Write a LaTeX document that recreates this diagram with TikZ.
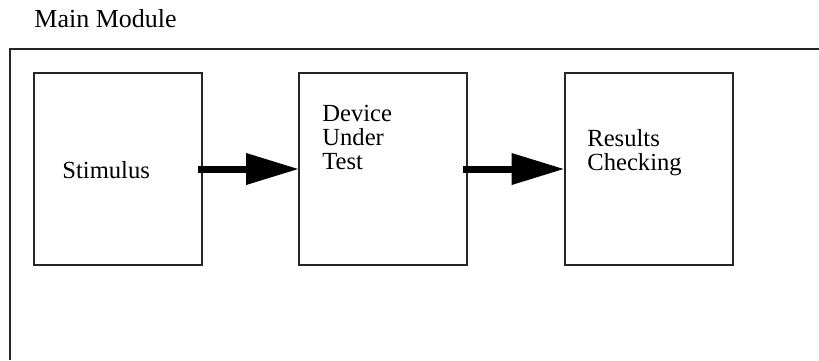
\documentclass[tikz,border=0pt]{standalone}
\usepackage{fontspec}
\setmainfont{Liberation Serif}
\usetikzlibrary{arrows.meta}
\begin{document}
\begin{tikzpicture}[x=0.5pt,y=-0.5pt,
  frameline/.style={draw=black!85,line width=1pt},
  block/.style={frameline,minimum width=84pt,minimum height=96pt,outer sep=0pt,inner sep=0pt},
  lbl/.style={anchor=base west,inner sep=0pt,font=\fontsize{12.3pt}{12pt}\selectfont,align=left},
  bigarrow/.style={line width=3.5pt,-{Triangle[length=26.5pt,width=15pt]}}]
\useasboundingbox (0,0) rectangle (819,360);
% outer module frame (cut off at right and bottom)
\coordinate (fr) at (819,49);
\coordinate (fc) at (10,49);
\coordinate (fb) at (10,360);
\draw[frameline] (fr) -- (fc) -- (fb);
\node[lbl,font=\fontsize{13pt}{13pt}\selectfont] (title) at (34,27) {Main Module};
% blocks
\node[block] (b1) at (118,169) {};
\node[block] (b2) at (383,169) {};
\node[block] (b3) at (648.5,169) {};
% labels (base anchor = baseline of last line)
\node[lbl] (t1) at (62,178) {Stimulus};
\node[lbl] (t2) at (322,169) {Device\\Under\\Test};
\node[lbl] (t3) at (587,170) {Results\\Checking};
% arrows
\draw[bigarrow] ([xshift=-2pt]b1.east) -- (b2.west);
\draw[bigarrow] ([xshift=-2pt]b2.east) -- (b3.west);
\end{tikzpicture}
\end{document}
